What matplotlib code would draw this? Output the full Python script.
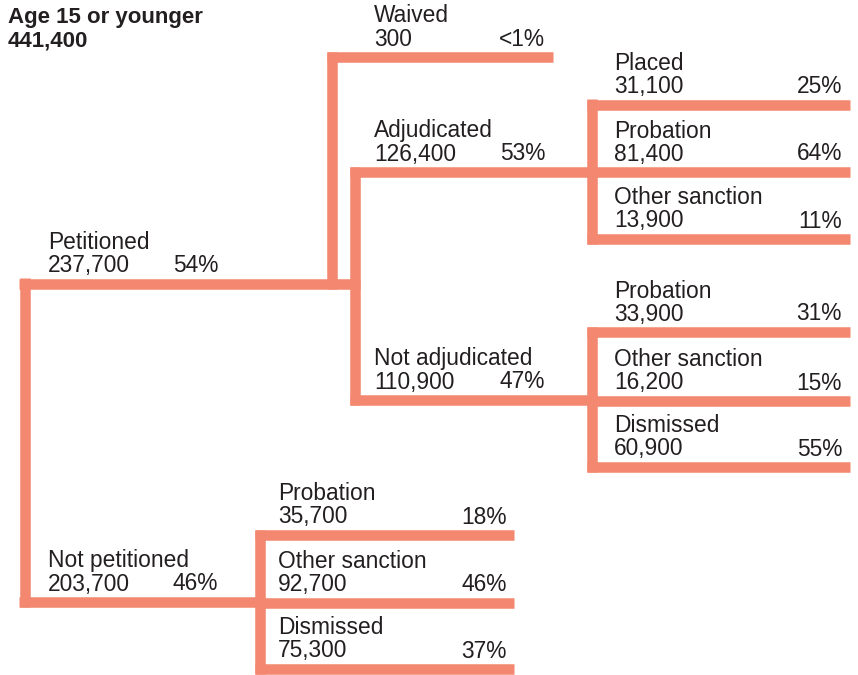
import matplotlib.pyplot as plt

plt.rcParams['font.family'] = ['Liberation Sans', 'DejaVu Sans']

# tree data
labels = ["Age 15 or younger", "Petitioned", "Not petitioned",
          "Waived", "Adjudicated", "Not adjudicated",
          "Placed", "Probation", "Other sanction",
          "Probation", "Other sanction", "Dismissed",
          "Probation", "Other sanction", "Dismissed"]
counts = ["441,400", "237,700", "203,700",
          "300", "126,400", "110,900",
          "31,100", "81,400", "13,900",
          "33,900", "16,200", "60,900",
          "35,700", "92,700", "75,300"]
shares = ["", "54%", "46%",
          "<1%", "53%", "47%",
          "25%", "64%", "11%",
          "31%", "15%", "55%",
          "18%", "46%", "37%"]
parents = [-1, 0, 0, 1, 1, 1, 4, 4, 4, 5, 5, 5, 2, 2, 2]

# layout in pixels (figure is 858 x 675)
node_y = [None, 283.5, 602, 57, 172, 400, 104.5, 172, 239,
          332, 401, 467, 535, 602.5, 669]
branch_x = [None, 24.5, 24.5, 332, 355, 355, 592, 592, 592,
            592, 592, 592, 260, 260, 260]
label_x = [8, 48, 48, 374, 374, 374, 614, 614, 614,
           614, 614, 614, 278, 278, 278]
share_right = [None, 218, 218, 545, 545, 545, 842, 842, 842,
               842, 842, 842, 507, 507, 507]
leaf_end = [None, None, None, 553, None, None, 850, 850, 850,
            850, 850, 850, 514, 514, 514]

line_color = '#f4876f'
text_color = '#231f20'
lw_px = 10.5
hw = lw_px / 2
lw_pt = lw_px * 72 / 100

fig = plt.figure(figsize=(8.58, 6.75), dpi=100)
ax = fig.add_axes([0, 0, 1, 1])
ax.set_xlim(0, 858)
ax.set_ylim(675, 0)
ax.axis('off')

n = len(labels)
children = {i: [j for j in range(n) if parents[j] == i] for i in range(n)}

# horizontal lines
for i in range(1, n):
    kids = children[i]
    if kids:
        end = max(branch_x[k] for k in kids) + hw
    else:
        end = leaf_end[i]
    ax.plot([branch_x[i] - hw, end], [node_y[i], node_y[i]],
            color=line_color, lw=lw_pt, solid_capstyle='butt')

# vertical connectors
for p in range(n):
    kids = children[p]
    if not kids:
        continue
    for bx in sorted(set(branch_x[k] for k in kids)):
        ys = [node_y[k] for k in kids if branch_x[k] == bx]
        if node_y[p] is not None:
            ys.append(node_y[p])
        ax.plot([bx, bx], [min(ys) - hw, max(ys) + hw],
                color=line_color, lw=lw_pt, solid_capstyle='butt')

# text
fs = 16.4
ax.text(label_x[0], 23, labels[0], fontsize=16, fontweight='bold',
        color=text_color, va='baseline', ha='left')
ax.text(label_x[0], 46, counts[0], fontsize=16, fontweight='bold',
        color=text_color, va='baseline', ha='left')
for i in range(1, n):
    y = node_y[i]
    ax.text(label_x[i], y - 34.5, labels[i], fontsize=fs,
            color=text_color, va='baseline', ha='left')
    ax.text(label_x[i], y - 11.5, counts[i], fontsize=fs,
            color=text_color, va='baseline', ha='left')
    ax.text(share_right[i], y - 11.5, shares[i], fontsize=fs,
            color=text_color, va='baseline', ha='right')

fig.savefig('out.png', dpi=100)
